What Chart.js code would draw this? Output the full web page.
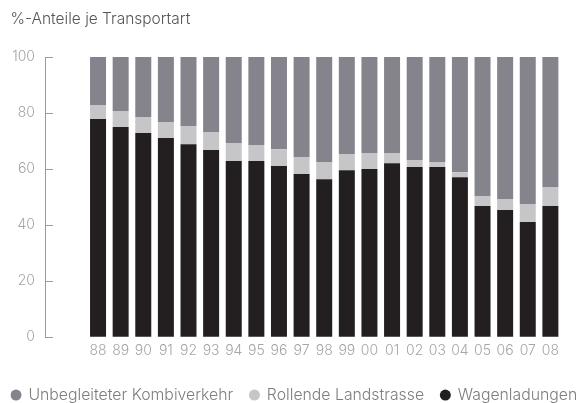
<!DOCTYPE html>
<html>
<head>
<meta charset="utf-8">
<script src="https://cdn.jsdelivr.net/npm/chart.js@4/dist/chart.umd.min.js"></script>
<style>
html,body{margin:0;padding:0;background:#fff;}
#wrap{width:578px;height:403px;overflow:hidden;}
</style>
</head>
<body>
<div id="wrap"><canvas id="c" width="578" height="403"></canvas></div>
<script>
const years = ['88','89','90','91','92','93','94','95','96','97','98','99','00','01','02','03','04','05','06','07','08'];
const wagenladungen = [77.9, 75.0, 72.9, 71.1, 68.9, 66.8, 62.9, 62.9, 61.1, 58.2, 56.4, 59.6, 60.0, 62.1, 60.7, 60.7, 57.1, 46.8, 45.4, 41.1, 46.8];
const rollende = [5.0, 5.7, 5.7, 5.7, 6.5, 6.4, 6.4, 5.7, 6.0, 6.1, 6.1, 5.8, 5.7, 3.6, 2.5, 1.8, 1.8, 3.6, 3.9, 6.4, 6.8];
const unbegleitet = [17.1, 19.3, 21.4, 23.2, 24.6, 26.8, 30.7, 31.4, 32.9, 35.7, 37.5, 34.6, 34.3, 34.3, 36.8, 37.5, 41.1, 49.6, 50.7, 52.5, 46.4];
const yTicks = [0, 20, 40, 60, 80, 100];

const FONT = 'Inter';
const pts = arr => arr.map((v, i) => ({x: i, y: v}));

new Chart(document.getElementById('c'), {
  type: 'bar',
  data: {
    datasets: [
      {label: 'Wagenladungen', data: pts(wagenladungen), backgroundColor: '#231f20'},
      {label: 'Rollende Landstrasse', data: pts(rollende), backgroundColor: '#c6c5c8'},
      {label: 'Unbegleiteter Kombiverkehr', data: pts(unbegleitet), backgroundColor: '#85848c'}
    ]
  },
  options: {
    responsive: false,
    animation: false,
    layout: {padding: {left: 10.5, right: -40, top: 0, bottom: -10}},
    datasets: {bar: {barPercentage: 0.707, categoryPercentage: 1, borderWidth: 0}},
    plugins: {
      title: {
        display: true, text: '%-Anteile je Transportart', align: 'start',
        color: '#555', font: {family: FONT, size: 15.5, weight: 300},
        padding: {top: 10, bottom: 28.4}
      },
      legend: {
        position: 'bottom', reverse: true, align: 'start',
        labels: {
          usePointStyle: true, pointStyle: 'circle', boxWidth: 9, boxHeight: 7.8,
          color: '#7d7d80', font: {family: FONT, size: 15.8, weight: 300}, padding: 1,
          generateLabels: chart => Chart.defaults.plugins.legend.labels.generateLabels(chart)
            .map(item => Object.assign(item, {text: item.text + '\u2003'}))
        }
      },
      tooltip: {enabled: false}
    },
    scales: {
      x: {
        type: 'linear', stacked: true, offset: false,
        min: -2.345, max: 21.21,
        afterFit: s => { s.height = 49; },
        grid: {display: false, drawTicks: false}, border: {display: false},
        ticks: {
          stepSize: 1, autoSkip: false, maxRotation: 0, includeBounds: false,
          color: '#a5a5a8', font: {family: FONT, size: 14, weight: 300}, padding: 5,
          callback: v => (Number.isInteger(v) && years[v] !== undefined) ? years[v] : ''
        }
      },
      y: {
        stacked: true, min: 0, max: 100,
        afterFit: s => { s.width = 34.5; },
        afterBuildTicks: s => { s.ticks = yTicks.map(v => ({value: v})); },
        border: {display: true, color: '#9a9a9d', width: 1},
        grid: {drawOnChartArea: false, tickLength: -8, color: '#9a9a9d'},
        ticks: {color: '#a5a5a8', font: {family: FONT, size: 14, weight: 300}, padding: 18}
      }
    }
  }
});
</script>
</body>
</html>
